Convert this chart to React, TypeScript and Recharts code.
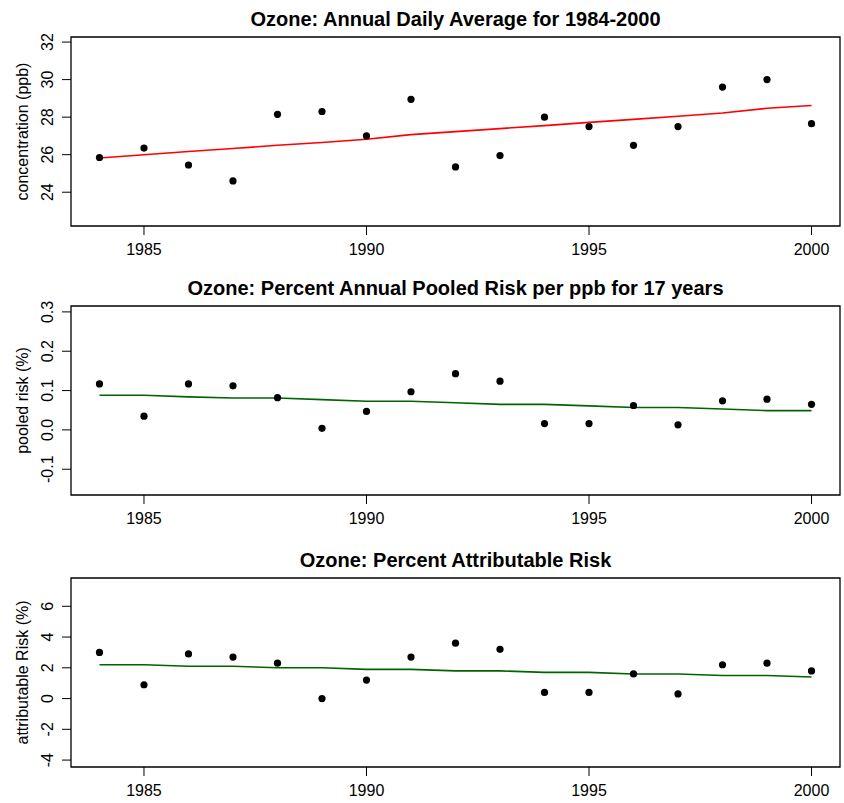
import React from 'react';
import { ComposedChart, Line, Scatter, XAxis, YAxis, ReferenceArea } from 'recharts';

const years = [1984, 1985, 1986, 1987, 1988, 1989, 1990, 1991, 1992, 1993, 1994, 1995, 1996, 1997, 1998, 1999, 2000];
const xTicks = [1985, 1990, 1995, 2000];

const ozoneConc = [25.85, 26.35, 25.45, 24.6, 28.15, 28.3, 27.0, 28.95, 25.35, 25.95, 28.0, 27.5, 26.5, 27.5, 29.6, 30.0, 27.65];
const ozoneTrend = [25.82, 26.0, 26.17, 26.33, 26.5, 26.65, 26.82, 27.07, 27.23, 27.39, 27.55, 27.72, 27.88, 28.05, 28.22, 28.47, 28.62];
const concTicks = [24, 26, 28, 30, 32];

const pooledRisk = [0.117, 0.035, 0.117, 0.112, 0.082, 0.004, 0.047, 0.097, 0.143, 0.124, 0.016, 0.016, 0.062, 0.013, 0.074, 0.078, 0.065];
const pooledTrend = [0.088, 0.088, 0.084, 0.081, 0.081, 0.077, 0.073, 0.073, 0.069, 0.065, 0.065, 0.061, 0.057, 0.057, 0.053, 0.049, 0.049];
const pooledTicks = [-0.1, 0, 0.1, 0.2, 0.3];

const attribRisk = [3.0, 0.9, 2.9, 2.7, 2.3, 0.0, 1.2, 2.7, 3.6, 3.2, 0.4, 0.4, 1.6, 0.3, 2.2, 2.3, 1.8];
const attribTrend = [2.2, 2.2, 2.1, 2.1, 2.0, 2.0, 1.9, 1.9, 1.8, 1.8, 1.7, 1.7, 1.6, 1.6, 1.5, 1.5, 1.4];
const attribTicks = [-4, -2, 0, 2, 4, 6];

const FONT = '"Liberation Sans", Arial, Helvetica, sans-serif';
const X_DOMAIN: [number, number] = [1983.36, 2000.64];

interface PanelProps {
  top: number;
  height: number;
  title: string;
  yLabel: string;
  values: number[];
  trend: number[];
  trendColor: string;
  yDomain: [number, number];
  yTicks: number[];
  tickFormat: (v: number) => string;
}

const Panel: React.FC<PanelProps> = ({ top, height, title, yLabel, values, trend, trendColor, yDomain, yTicks, tickFormat }) => {
  const rows = years.map((year, i) => ({ year, value: values[i], trend: trend[i] }));
  const plotTop = 37;
  const plotHeight = 189;

  const YTick = (props: any) => {
    const { y, payload } = props;
    return (
      <text
        x={53}
        y={y}
        transform={`rotate(-90, 53, ${y})`}
        textAnchor="middle"
        fontSize={16}
        fontFamily={FONT}
        fill="#000"
      >
        {tickFormat(payload.value)}
      </text>
    );
  };

  return (
    <div style={{ position: 'absolute', left: 0, top, width: 844, height }}>
      <svg width={844} height={40} style={{ position: 'absolute', left: 0, top: 0 }}>
        <text x={455.5} y={26} textAnchor="middle" fontSize={20} fontWeight="bold" fontFamily={FONT} fill="#000">
          {title}
        </text>
      </svg>
      <svg width={40} height={height} style={{ position: 'absolute', left: 0, top: 0 }}>
        <text
          x={28}
          y={plotTop + plotHeight / 2}
          transform={`rotate(-90, 28, ${plotTop + plotHeight / 2})`}
          textAnchor="middle"
          fontSize={16}
          fontFamily={FONT}
          fill="#000"
        >
          {yLabel}
        </text>
      </svg>
      <ComposedChart
        width={844}
        height={height}
        data={rows}
        margin={{ top: plotTop, right: 4, bottom: 0, left: 0 }}
        style={{ position: 'absolute', left: 0, top: 0 }}
      >
        <XAxis
          dataKey="year"
          type="number"
          domain={X_DOMAIN}
          ticks={xTicks}
          allowDataOverflow
          height={height - plotTop - plotHeight}
          axisLine={false}
          tickLine={{ stroke: '#000', strokeWidth: 1 }}
          tickSize={9}
          tickMargin={9}
          tick={{ fontSize: 16, fill: '#000', fontFamily: FONT }}
          interval={0}
        />
        <YAxis
          type="number"
          domain={yDomain}
          ticks={yTicks}
          allowDataOverflow
          width={71}
          axisLine={false}
          tickLine={{ stroke: '#000', strokeWidth: 1 }}
          tickSize={9}
          tick={<YTick />}
          interval={0}
        />
        <ReferenceArea
          x1={X_DOMAIN[0]}
          x2={X_DOMAIN[1]}
          y1={yDomain[0]}
          y2={yDomain[1]}
          fill="none"
          stroke="#000"
          strokeWidth={1.3}
          ifOverflow="visible"
        />
        <Line
          dataKey="trend"
          type="linear"
          stroke={trendColor}
          strokeWidth={1.6}
          dot={false}
          isAnimationActive={false}
        />
        <Scatter
          dataKey="value"
          fill="#000"
          shape={(p: any) => <circle cx={p.cx} cy={p.cy} r={3.6} fill="#000" />}
          isAnimationActive={false}
        />
      </ComposedChart>
    </div>
  );
};

const App: React.FC = () => (
  <div style={{ position: 'absolute', left: 0, top: 0, width: 844, height: 803, background: '#fff', overflow: 'hidden' }}>
    <Panel
      top={0}
      height={268}
      title="Ozone: Annual Daily Average for 1984-2000"
      yLabel="concentration (ppb)"
      values={ozoneConc}
      trend={ozoneTrend}
      trendColor="#ff0000"
      yDomain={[22.2, 32.27]}
      yTicks={concTicks}
      tickFormat={(v) => String(v)}
    />
    <Panel
      top={269}
      height={268}
      title="Ozone: Percent Annual Pooled Risk per ppb for 17 years"
      yLabel="pooled risk (%)"
      values={pooledRisk}
      trend={pooledTrend}
      trendColor="#006400"
      yDomain={[-0.1655, 0.315]}
      yTicks={pooledTicks}
      tickFormat={(v) => v.toFixed(1)}
    />
    <Panel
      top={541}
      height={262}
      title="Ozone: Percent Attributable Risk"
      yLabel="attributable Risk (%)"
      values={attribRisk}
      trend={attribTrend}
      trendColor="#006400"
      yDomain={[-4.45, 7.84]}
      yTicks={attribTicks}
      tickFormat={(v) => String(v)}
    />
  </div>
);

export default App;
